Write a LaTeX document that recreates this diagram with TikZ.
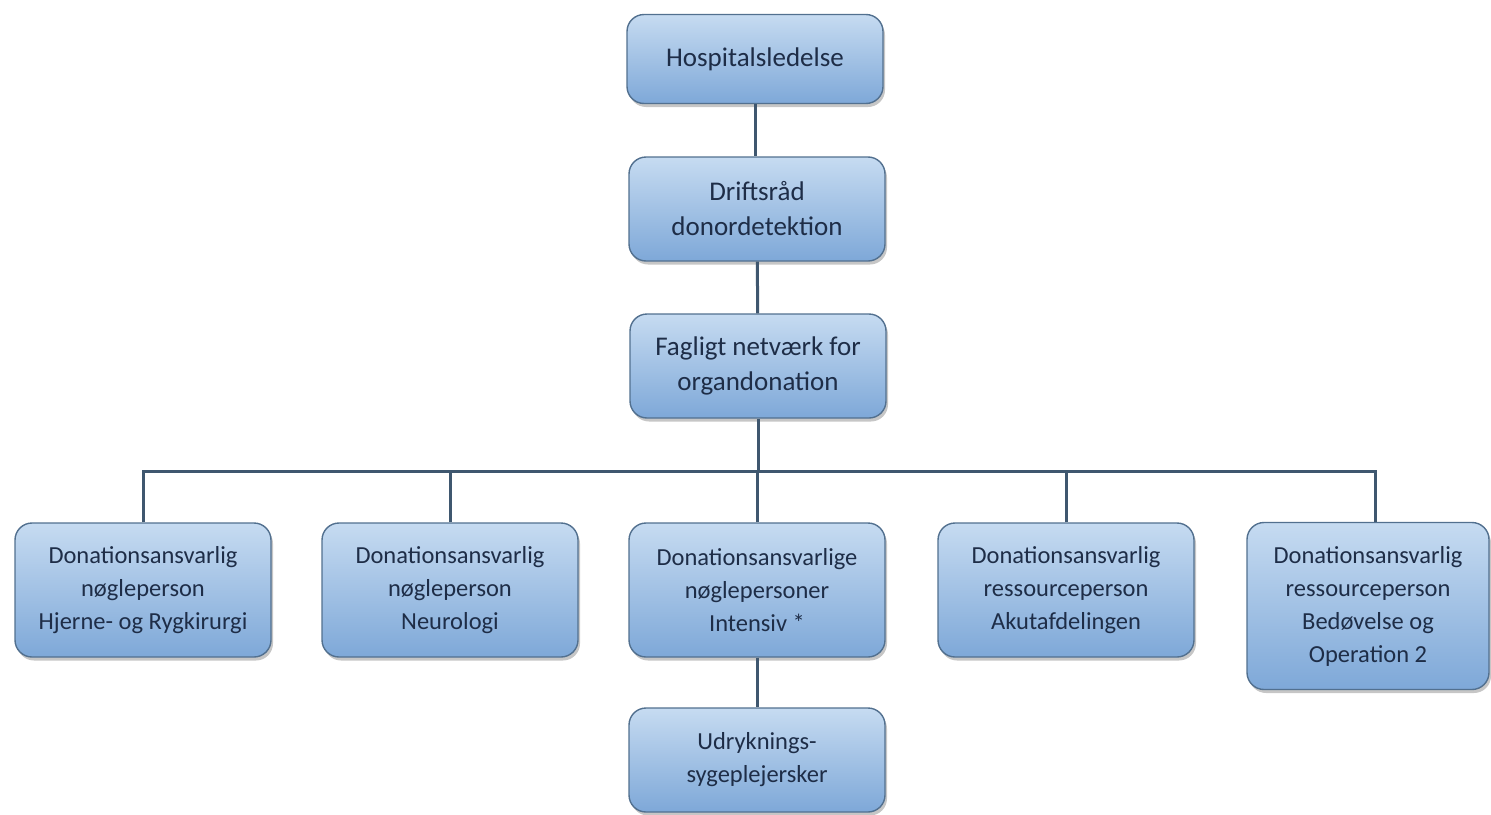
\documentclass[tikz,border=0pt]{standalone}
\usepackage{fontspec}
\setmainfont{Carlito}
\usetikzlibrary{positioning}
\usetikzlibrary{shadows}
\definecolor{boxtop}{HTML}{C6DBF1}
\definecolor{boxbot}{HTML}{7EA8D8}
\definecolor{boxline}{HTML}{52708F}
\definecolor{linkcol}{HTML}{3F576F}
\definecolor{txtcol}{HTML}{1E2D47}

\begin{document}
\begin{tikzpicture}[x = 1pt, y = -1pt,
  orgbox/.style = {draw = boxline, line width = 1.4pt, rounded corners = 17pt,
    top color = boxtop, bottom color = boxbot, minimum width = 256pt,
    inner sep = 0pt, align = center, text = txtcol,
    font = \fontsize{27}{35}\selectfont,
    drop shadow = {opacity = .45, shadow xshift = 2pt, shadow yshift = -3.5pt}},
  lowbox/.style = {orgbox, font = \fontsize{24.5}{33}\selectfont},
  link/.style = {draw = linkcol, line width = 3pt}]
\useasboundingbox (0,0) rectangle (1491,814);
% top of the chart
\node[orgbox, minimum height = 89pt] (ledelse) at (755,59) {Hospitalsledelse};
\node[orgbox, minimum height = 104pt] (drift) at (757,209) {Driftsråd\\donordetektion};
\node[orgbox, minimum height = 104pt] (netvaerk) at (758,366) {Fagligt netværk for\\organdonation};
% bottom row
\node[lowbox, minimum height = 134pt] (hjerne) at (143,590) {Donationsansvarlig\\nøgleperson\\Hjerne- og Rygkirurgi};
\node[lowbox, minimum height = 134pt] (neuro) at (450,590) {Donationsansvarlig\\nøgleperson\\Neurologi};
\node[lowbox, minimum height = 134pt] (intensiv) at (757,590) {Donationsansvarlige\\nøglepersoner\\Intensiv *};
\node[lowbox, minimum height = 134pt] (akut) at (1066,590) {Donationsansvarlig\\ressourceperson\\Akutafdelingen};
\node[lowbox, minimum height = 167pt, minimum width = 242pt] (bedoev) at (1368,606) {Donationsansvarlig\\ressourceperson\\Bedøvelse og\\Operation 2};
\node[lowbox, minimum height = 104pt] (udryk) at (757,760) {Udryknings-\\sygeplejersker};
% connectors
\coordinate (bus) at (758,471);
\draw[link] (ledelse.south) -- (ledelse.south |- drift.north);
\draw[link] (drift) -- (netvaerk);
\draw[link] (netvaerk.south) -- (bus);
\draw[link] (hjerne.north) |- ([xshift = 7pt]bedoev.north |- bus) -- ([xshift = 7pt]bedoev.north);
\foreach \n in {neuro, intensiv, akut}{\draw[link] (\n.north) -- (\n.north |- bus);}
\draw[link] (intensiv) -- (udryk);
\end{tikzpicture}
\end{document}
